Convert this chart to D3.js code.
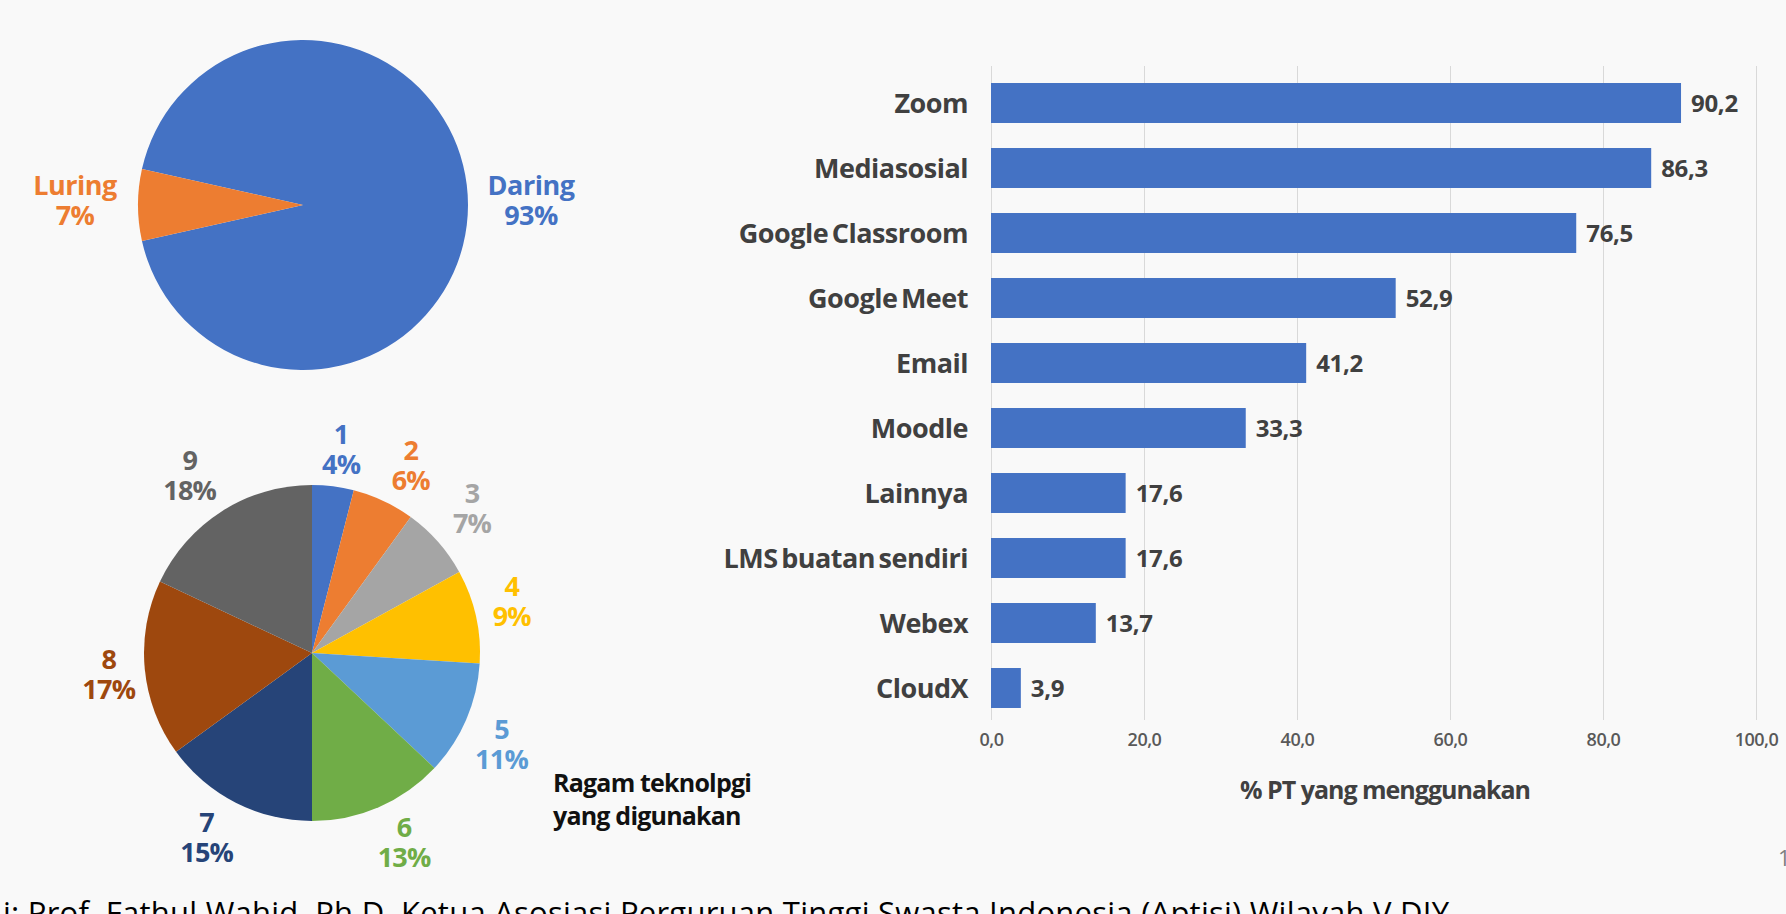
<!DOCTYPE html>
<html lang="en">
<head>
<meta charset="utf-8">
<script src="https://d3js.org/d3.v7.min.js"></script>
<style type="text/css">

body {
	margin: 0;
	background: #f9f9f9;
}

/* Bold labels like the slide */
.lbl {
	font-family: "Open Sans", sans-serif;
	font-weight: 700;
}

.tick text {
	font-family: "Open Sans", sans-serif;
	font-weight: 600;
	font-size: 18px;
	fill: #595959;
	letter-spacing: -0.5px;
}

</style>
</head>
<body>
<script type="text/javascript">

// Size of the slide
var width = 1786;
var height = 914;

// Top pie: mode of lectures
var modeLabels = ["Daring", "Luring"];
var modeValues = [93, 7];

// Bottom pie: number of technologies used
var varietyLabels = ["1", "2", "3", "4", "5", "6", "7", "8", "9"];
var varietyValues = [4, 6, 7, 9, 11, 13, 15, 17, 18];

// Bar chart: platforms used
var techLabels = ["Zoom", "Mediasosial", "Google Classroom", "Google Meet", "Email",
                  "Moodle", "Lainnya", "LMS buatan sendiri", "Webex", "CloudX"];
var techValues = [90.2, 86.3, 76.5, 52.9, 41.2, 33.3, 17.6, 17.6, 13.7, 3.9];
var xTicks = [0, 20, 40, 60, 80, 100];

var modeColors = ["#4472C4", "#ED7D31"];
var varietyColors = ["#4472C4", "#ED7D31", "#A5A5A5", "#FFC000", "#5B9BD5",
                     "#70AD47", "#264478", "#9E480E", "#636363"];

// Indonesian number format (comma as decimal)
var idLocale = d3.formatLocale({decimal: ",", thousands: ".", grouping: [3], currency: ["Rp", ""]});
var fmt = idLocale.format(".1f");

var svg = d3.select("body")
            .append("svg")
            .attr("width", width)
            .attr("height", height);

svg.append("rect")
   .attr("width", width)
   .attr("height", height)
   .attr("fill", "#f9f9f9");

// ---------- Top pie ----------
var pie1 = {cx: 303, cy: 205, r: 165, labelR: 228};
var lur = modeValues[1] / d3.sum(modeValues);
// rotate so the small slice points left
var a0 = 1.5 * Math.PI - (1 - lur / 2) * 2 * Math.PI;

var modePie = d3.pie().sort(null).startAngle(a0).endAngle(a0 + 2 * Math.PI);
var modeArcs = modePie(modeValues);
var arc1 = d3.arc().innerRadius(0).outerRadius(pie1.r);
var labelArc1 = d3.arc().innerRadius(pie1.labelR).outerRadius(pie1.labelR);

var g1 = svg.append("g").attr("transform", "translate(" + pie1.cx + "," + pie1.cy + ")");

g1.selectAll("path")
  .data(modeArcs)
  .enter()
  .append("path")
  .attr("d", arc1)
  .attr("fill", function(d, i) { return modeColors[i]; });

var lab1 = g1.selectAll("text.mode")
  .data(modeArcs)
  .enter()
  .append("text")
  .attr("class", "lbl mode")
  .attr("text-anchor", "middle")
  .attr("font-size", 27)
  .attr("letter-spacing", "-0.5px")
  .attr("fill", function(d, i) { return modeColors[i]; })
  .attr("transform", function(d) { return "translate(" + labelArc1.centroid(d) + ")"; });

lab1.append("tspan").attr("x", 0).attr("y", -10).text(function(d, i) { return modeLabels[i]; });
lab1.append("tspan").attr("x", 0).attr("y", 20).text(function(d) { return d.data + "%"; });

// ---------- Bottom pie ----------
// labels sit just outside the rim, box pushed away from the pie (like Excel best fit)
var pie2 = {cx: 312, cy: 653, r: 168, labelR: 176, boxW: 28, boxH: 28};
var varietyPie = d3.pie().sort(null);
var varietyArcs = varietyPie(varietyValues);
var arc2 = d3.arc().innerRadius(0).outerRadius(pie2.r);

function clamp1(t) { return Math.max(-1, Math.min(1, t)); }

function labelPos(d) {
  var a = (d.startAngle + d.endAngle) / 2;
  var ux = Math.sin(a), uy = -Math.cos(a);
  return [pie2.labelR * ux + pie2.boxW * clamp1(2 * ux),
          pie2.labelR * uy + pie2.boxH * clamp1(2 * uy)];
}

var g2 = svg.append("g").attr("transform", "translate(" + pie2.cx + "," + pie2.cy + ")");

g2.selectAll("path")
  .data(varietyArcs)
  .enter()
  .append("path")
  .attr("d", arc2)
  .attr("fill", function(d, i) { return varietyColors[i]; });

var lab2 = g2.selectAll("text.variety")
  .data(varietyArcs)
  .enter()
  .append("text")
  .attr("class", "lbl variety")
  .attr("text-anchor", "middle")
  .attr("font-size", 27)
  .attr("letter-spacing", "-0.8px")
  .attr("fill", function(d, i) { return varietyColors[i]; })
  .attr("transform", function(d) { return "translate(" + labelPos(d) + ")"; });

lab2.append("tspan").attr("x", 0).attr("y", -6).text(function(d, i) { return varietyLabels[i]; });
lab2.append("tspan").attr("x", 0).attr("y", 24).text(function(d) { return d.data + "%"; });

var note = svg.append("text")
  .attr("class", "lbl")
  .attr("font-size", 25)
  .attr("letter-spacing", "-0.8px")
  .attr("fill", "#111");
note.append("tspan").attr("x", 553).attr("y", 792).text("Ragam teknolpgi");
note.append("tspan").attr("x", 553).attr("y", 825).text("yang digunakan");

// ---------- Bar chart ----------
var x = d3.scaleLinear().domain([0, 100]).range([991, 1756]);
var y = d3.scaleBand()
          .domain(techLabels)
          .range([70.5, 720.5])
          .paddingInner(0.385)
          .paddingOuter(0.1925);

var axisY = 720;
var xAxis = d3.axisBottom(x)
              .tickValues(xTicks)
              .tickFormat(fmt)
              .tickSize(-(axisY - 66))
              .tickPadding(13);

var gx = svg.append("g")
            .attr("transform", "translate(0," + axisY + ")")
            .call(xAxis);
gx.select(".domain").remove();
gx.selectAll(".tick line").attr("stroke", "#d9d9d9");

svg.selectAll("rect.bar")
   .data(techValues)
   .enter()
   .append("rect")
   .attr("class", "bar")
   .attr("x", x(0))
   .attr("y", function(d, i) { return y(techLabels[i]); })
   .attr("width", function(d) { return x(d) - x(0); })
   .attr("height", y.bandwidth())
   .attr("fill", "#4472C4");

svg.selectAll("text.cat")
   .data(techLabels)
   .enter()
   .append("text")
   .attr("class", "lbl cat")
   .attr("x", 968)
   .attr("y", function(d) { return y(d) + y.bandwidth() / 2; })
   .attr("dy", "0.36em")
   .attr("text-anchor", "end")
   .attr("font-size", 27)
   .attr("letter-spacing", "-0.5px")
   .attr("word-spacing", "-3px")
   .attr("fill", "#404040")
   .text(function(d) { return d; });

svg.selectAll("text.val")
   .data(techValues)
   .enter()
   .append("text")
   .attr("class", "lbl val")
   .attr("x", function(d) { return x(d) + 10; })
   .attr("y", function(d, i) { return y(techLabels[i]) + y.bandwidth() / 2; })
   .attr("dy", "0.36em")
   .attr("font-size", 24)
   .attr("letter-spacing", "-0.3px")
   .attr("fill", "#404040")
   .text(function(d) { return fmt(d); });

svg.append("text")
   .attr("class", "lbl")
   .attr("x", 1385)
   .attr("y", 799)
   .attr("text-anchor", "middle")
   .attr("font-size", 25)
   .attr("letter-spacing", "-1px")
   .attr("fill", "#404040")
   .text("% PT yang menggunakan");

// page number, cut at the edge
svg.append("text")
   .attr("x", 1778)
   .attr("y", 866)
   .attr("font-family", "Open Sans, sans-serif")
   .attr("font-size", 22)
   .attr("fill", "#7f7f7f")
   .text("1");

// caption, mostly below the slide edge
svg.append("text")
   .attr("x", 3)
   .attr("y", 924)
   .attr("font-family", "Open Sans, sans-serif")
   .attr("font-size", 31)
   .attr("textLength", 1446)
   .attr("lengthAdjust", "spacing")
   .attr("fill", "#000")
   .text("i: Prof. Fathul Wahid, Ph.D, Ketua Asosiasi Perguruan Tinggi Swasta Indonesia (Aptisi) Wilayah V DIY");

</script>
</body>
</html>
